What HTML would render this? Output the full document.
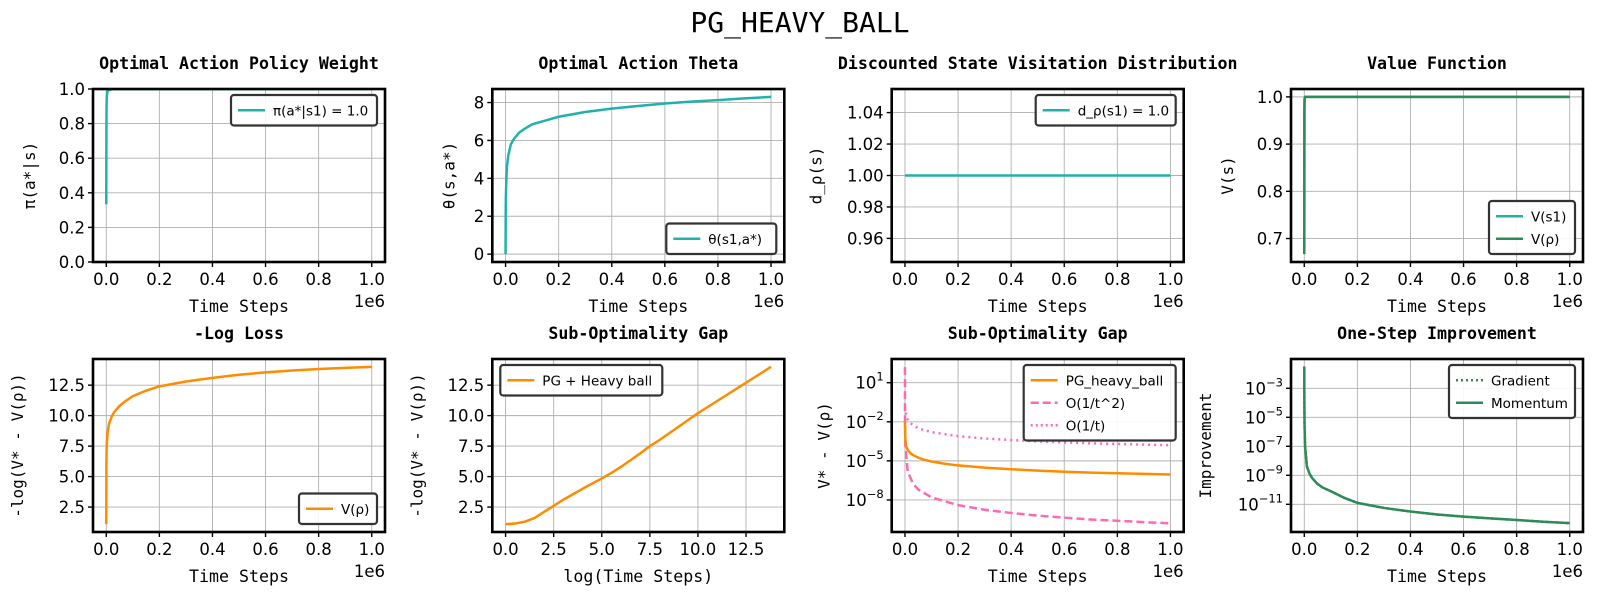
<!DOCTYPE html>
<html><head><meta charset="utf-8"><style>
html,body{margin:0;padding:0;background:#fff;}
svg{display:block;}
text{font-family:"DejaVu Sans","Liberation Sans",sans-serif;}
.mono{font-family:"DejaVu Sans Mono","Liberation Mono",monospace;}
</style></head><body>
<svg id="fig" width="1600" height="600" viewBox="0 0 1600 600" xmlns="http://www.w3.org/2000/svg">
<text class="mono" x="800" y="32" font-size="28" text-anchor="middle">PG_HEAVY_BALL</text>
</svg>
<script>
// ---- data (time in units of 1e6) ----
const piT = [0, 0.0005, 0.001, 0.002, 0.005, 0.02, 1.0];
const piV = [0.333, 0.75, 0.9, 0.96, 0.99, 0.999, 1.0];
const thT = [0, 0.0005, 0.001, 0.003, 0.005, 0.01, 0.02, 0.03, 0.05, 0.07, 0.1, 0.15, 0.2, 0.3, 0.4, 0.5, 0.6, 0.7, 0.8, 0.9, 1.0];
const thV = [0, 2.2, 3.0, 4.0, 4.6, 5.2, 5.8, 6.05, 6.4, 6.6, 6.85, 7.05, 7.25, 7.5, 7.68, 7.82, 7.95, 8.05, 8.13, 8.22, 8.3];
const dT = [0, 1.0];
const dV = [1.0, 1.0];
const vT = [0, 0.0005, 0.001, 0.003, 1.0];
const vS1 = [0.667, 0.97, 0.995, 1.0, 1.0];
const vRho = [0.667, 0.97, 0.995, 1.0, 1.0];
const p5T = [0, 0.0005, 0.001, 0.002, 0.005, 0.01, 0.02, 0.03, 0.05, 0.07, 0.1, 0.15, 0.2, 0.3, 0.4, 0.5, 0.6, 0.7, 0.8, 0.9, 1.0];
const p5V = [1.1, 6.0, 6.9, 7.7, 8.6, 9.3, 9.9, 10.3, 10.8, 11.15, 11.6, 12.05, 12.4, 12.8, 13.1, 13.35, 13.55, 13.7, 13.82, 13.92, 14.0];
const p6X = [0, 0.5, 1, 1.5, 2, 2.5, 3, 4, 5, 5.5, 6, 7, 7.5, 8, 9, 10, 11, 12, 13, 13.8];
const p6V = [1.1, 1.15, 1.3, 1.6, 2.1, 2.6, 3.1, 4.0, 4.85, 5.3, 5.8, 6.9, 7.5, 8.0, 9.1, 10.2, 11.2, 12.2, 13.2, 14.0];
const pgT = [0, 0.001, 0.003, 0.005, 0.01, 0.02, 0.03, 0.05, 0.07, 0.1, 0.15, 0.2, 0.3, 0.4, 0.5, 0.6, 0.7, 0.8, 0.9, 1.0];
const pgL = [-2.0, -3.2, -3.7, -3.9, -4.15, -4.4, -4.55, -4.75, -4.9, -5.05, -5.22, -5.35, -5.52, -5.64, -5.75, -5.84, -5.9, -5.95, -6.0, -6.05];
const o2T = [0.000001, 0.00001, 0.0001, 0.001, 0.01, 0.03, 0.05, 0.1, 0.2, 0.3, 0.4, 0.5, 0.6, 0.7, 0.8, 0.9, 1.0];
const o2L = [2.2, 0.2, -1.8, -3.8, -5.8, -6.75, -7.2, -7.8, -8.4, -8.75, -9.0, -9.2, -9.36, -9.5, -9.6, -9.7, -9.8];
const o1T = [0.003, 0.01, 0.02, 0.05, 0.1, 0.2, 0.3, 0.4, 0.5, 0.6, 0.7, 0.8, 0.9, 1.0];
const o1L = [-1.3, -1.8, -2.1, -2.5, -2.8, -3.1, -3.28, -3.4, -3.5, -3.58, -3.65, -3.7, -3.75, -3.8];
const gT = [0, 0.0002, 0.0005, 0.001, 0.003, 0.008, 0.01, 0.02, 0.03, 0.05, 0.07, 0.1, 0.15, 0.2, 0.3, 0.4, 0.5, 0.6, 0.7, 0.8, 0.9, 1.0];
const gL = [-1.5, -3.5, -4.5, -5.5, -7.0, -8.0, -8.4, -8.9, -9.2, -9.6, -9.85, -10.1, -10.55, -10.9, -11.25, -11.5, -11.7, -11.85, -11.97, -12.08, -12.2, -12.3];
const mT = [0, 0.0002, 0.0005, 0.001, 0.003, 0.008, 0.01, 0.02, 0.03, 0.05, 0.07, 0.1, 0.15, 0.2, 0.3, 0.4, 0.5, 0.6, 0.7, 0.8, 0.9, 1.0];
const mL = [-1.5, -3.5, -4.5, -5.5, -7.0, -8.0, -8.4, -8.9, -9.2, -9.6, -9.85, -10.1, -10.55, -10.9, -11.25, -11.5, -11.7, -11.85, -11.97, -12.08, -12.2, -12.3];
const timeTicks = [0, 0.2, 0.4, 0.6, 0.8, 1.0];
const timeTickLabels = ["0.0", "0.2", "0.4", "0.6", "0.8", "1.0"];
const logTimeTicks = [0, 2.5, 5, 7.5, 10, 12.5];
const logTimeTickLabels = ["0.0", "2.5", "5.0", "7.5", "10.0", "12.5"];

const NS = "http://www.w3.org/2000/svg";
const fig = document.getElementById("fig");
function mk(tag, attrs, parent) {
  const e = document.createElementNS(NS, tag);
  for (const k in attrs) e.setAttribute(k, attrs[k]);
  (parent || fig).appendChild(e);
  return e;
}
const COLS = [93, 492.3, 891.7, 1291];
const ROWS = [89, 359];
const W = 292, H = 173;
const TEAL = "#20b2aa", SEA = "#2e8b57", ORANGE = "#ff8c00", PINK = "#ff69b4";

function panel(o) {
  const L = COLS[o.col], T = ROWS[o.row];
  const g = mk("g", {});
  
  
  const [x0, x1] = o.xlim, [y0, y1] = o.ylim;
  const X = v => L + (v - x0) / (x1 - x0) * W;
  const Y = v => T + H - (v - y0) / (y1 - y0) * H;
  o.xticks.forEach((t) => {
    const l = mk("line", {x1: X(t), x2: X(t), y1: T, y2: T + H, stroke: "#b0b0b0", "stroke-width": 0.9}, g);
    
    
  });
  o.yticks.forEach((t) => {
    const l = mk("line", {x1: L, x2: L + W, y1: Y(t), y2: Y(t), stroke: "#b0b0b0", "stroke-width": 0.9}, g);
    
    
  });
  const cid = "clip" + o.col + o.row;
  const cp = mk("clipPath", {id: cid}, g);
  mk("rect", {x: L, y: T, width: W, height: H}, cp);
  o.series.forEach(s => {
    const pts = s.x.map((xv, i) => X(xv).toFixed(2) + "," + Y(s.y[i]).toFixed(2)).join(" ");
    const p = mk("polyline", {points: pts, fill: "none", stroke: s.color, "stroke-width": s.w || 2.5,
      "stroke-dasharray": s.dash || "none", "stroke-linejoin": "round", "clip-path": "url(#" + cid + ")"}, g);
    
    
  });
  const sp = mk("rect", {x: L, y: T, width: W, height: H, fill: "none", stroke: "#000", "stroke-width": 2.6}, g);
  
  
  o.xticks.forEach((t, i) => {
    mk("line", {x1: X(t), x2: X(t), y1: T + H, y2: T + H + 5, stroke: "#000", "stroke-width": 1.4}, g);
    const tx = mk("text", {x: X(t), y: T + H + 23, "font-size": 16.5, "text-anchor": "middle"}, g);
    tx.textContent = o.xtickLabels[i];
    
    
  });
  o.yticks.forEach((t, i) => {
    mk("line", {x1: L - 5, x2: L, y1: Y(t), y2: Y(t), stroke: "#000", "stroke-width": 1.4}, g);
    const tx = mk("text", {x: L - 8, y: Y(t) + 6, "font-size": 16.5, "text-anchor": "end"}, g);
    if (o.ylog) {
      const a = mk("tspan", {}, tx); a.textContent = "10";
      const b = mk("tspan", {dy: -8, "font-size": 11.5}, tx); b.textContent = (t < 0 ? "\u2212" : "") + Math.abs(t);
    } else {
      tx.textContent = o.ytickLabels[i];
    }
    
    
  });
  const ttl = mk("text", {x: L + W / 2, y: T - 20, "font-size": 16.6, "font-weight": "bold", "text-anchor": "middle", class: "mono"}, g);
  ttl.textContent = o.title;
  
  
  const xl = mk("text", {x: L + W / 2, y: T + H + 50, "font-size": 16.6, "text-anchor": "middle", class: "mono"}, g);
  xl.textContent = o.xlabel;
  
  
  const yl = mk("text", {x: 0, y: 0, "font-size": 16, "text-anchor": "middle", class: "mono",
    transform: "translate(" + (L - o.ylabelOff) + "," + (T + H / 2) + ") rotate(-90)"}, g);
  yl.textContent = o.ylabel;
  
  
  if (o.offset) {
    const of = mk("text", {x: L + W, y: T + H + 45, "font-size": 16.5, "text-anchor": "end"}, g);
    of.textContent = "1e6";
    
    
  }
  const lg = o.legend;
  const rowH = 22.5;
  const bh = lg.entries.length * rowH + 8;
  const bx = lg.right ? L + W - 8 - lg.w : L + 8;
  const by = lg.bottom ? T + H - 8 - bh : T + 6;
  const lgG = mk("g", {}, g);
  
  
  mk("rect", {x: bx, y: by, width: lg.w, height: bh, rx: 3, fill: "#fff", "fill-opacity": 0.9, stroke: "#333", "stroke-width": 2.2}, lgG);
  lg.entries.forEach((e, i) => {
    const cy = by + 4 + rowH * (i + 0.5);
    const ln = mk("line", {x1: bx + 7, x2: bx + 34, y1: cy, y2: cy, stroke: e.color, "stroke-width": 2.6, "stroke-dasharray": e.dash || "none"}, lgG);
    
    
    const tx = mk("text", {x: bx + 42, y: cy + 5, "font-size": 13.5}, lgG);
    tx.textContent = e.label;
    
    
  });
}

const tX = [-0.05, 1.05];
panel({name: "policy-weight-panel", col: 0, row: 0, xlim: tX, ylim: [0, 1], xticks: timeTicks, xtickLabels: timeTickLabels,
  yticks: [0, 0.2, 0.4, 0.6, 0.8, 1.0], ytickLabels: ["0.0", "0.2", "0.4", "0.6", "0.8", "1.0"],
  title: "Optimal Action Policy Weight", xlabel: "Time Steps", ylabel: "\u03c0(a*|s)", ylabelOff: 58, offset: true,
  series: [{name: "pi-line", x: piT, y: piV, color: TEAL}],
  legend: {right: true, w: 146, entries: [{label: "\u03c0(a*|s1) = 1.0", color: TEAL}]}});
panel({name: "theta-panel", col: 1, row: 0, xlim: tX, ylim: [-0.415, 8.715], xticks: timeTicks, xtickLabels: timeTickLabels,
  yticks: [0, 2, 4, 6, 8], ytickLabels: ["0", "2", "4", "6", "8"],
  title: "Optimal Action Theta", xlabel: "Time Steps", ylabel: "\u03b8(s,a*)", ylabelOff: 38, offset: true,
  series: [{name: "theta-line", x: thT, y: thV, color: TEAL}],
  legend: {right: true, bottom: true, w: 110, entries: [{label: "\u03b8(s1,a*)", color: TEAL}]}});
panel({name: "visitation-panel", col: 2, row: 0, xlim: tX, ylim: [0.945, 1.055], xticks: timeTicks, xtickLabels: timeTickLabels,
  yticks: [0.96, 0.98, 1.0, 1.02, 1.04], ytickLabels: ["0.96", "0.98", "1.00", "1.02", "1.04"],
  title: "Discounted State Visitation Distribution", xlabel: "Time Steps", ylabel: "d_\u03c1(s)", ylabelOff: 70, offset: true,
  series: [{name: "d-rho-line", x: dT, y: dV, color: TEAL}],
  legend: {right: true, w: 140, entries: [{label: "d_\u03c1(s1) = 1.0", color: TEAL}]}});
panel({name: "value-function-panel", col: 3, row: 0, xlim: tX, ylim: [0.6503, 1.0167], xticks: timeTicks, xtickLabels: timeTickLabels,
  yticks: [0.7, 0.8, 0.9, 1.0], ytickLabels: ["0.7", "0.8", "0.9", "1.0"],
  title: "Value Function", xlabel: "Time Steps", ylabel: "V(s)", ylabelOff: 58, offset: true,
  series: [{name: "v-s1-line", x: vT, y: vS1, color: TEAL}, {name: "v-rho-line", x: vT, y: vRho, color: SEA}],
  legend: {right: true, bottom: true, w: 86, entries: [{label: "V(s1)", color: TEAL}, {label: "V(\u03c1)", color: SEA}]}});
panel({name: "neg-log-loss-panel", col: 0, row: 1, xlim: tX, ylim: [0.455, 14.645], xticks: timeTicks, xtickLabels: timeTickLabels,
  yticks: [2.5, 5, 7.5, 10, 12.5], ytickLabels: ["2.5", "5.0", "7.5", "10.0", "12.5"],
  title: "-Log Loss", xlabel: "Time Steps", ylabel: "-log(V* - V(\u03c1))", ylabelOff: 70, offset: true,
  series: [{name: "neg-log-gap-line", x: p5T, y: p5V, color: ORANGE}],
  legend: {right: true, bottom: true, w: 78, entries: [{label: "V(\u03c1)", color: ORANGE}]}});
panel({name: "log-suboptimality-panel", col: 1, row: 1, xlim: [-0.69, 14.49], ylim: [0.455, 14.645], xticks: logTimeTicks, xtickLabels: logTimeTickLabels,
  yticks: [2.5, 5, 7.5, 10, 12.5], ytickLabels: ["2.5", "5.0", "7.5", "10.0", "12.5"],
  title: "Sub-Optimality Gap", xlabel: "log(Time Steps)", ylabel: "-log(V* - V(\u03c1))", ylabelOff: 70, offset: false,
  series: [{name: "pg-heavy-ball-line", x: p6X, y: p6V, color: ORANGE}],
  legend: {right: false, w: 162, entries: [{label: "PG + Heavy ball", color: ORANGE}]}});
panel({name: "suboptimality-gap-panel", col: 2, row: 1, xlim: tX, ylim: [-10.46, 2.82], ylog: true, xticks: timeTicks, xtickLabels: timeTickLabels,
  yticks: [1, -2, -5, -8],
  title: "Sub-Optimality Gap", xlabel: "Time Steps", ylabel: "V* - V(\u03c1)", ylabelOff: 62, offset: true,
  series: [{name: "o-1-t2-line", x: o2T, y: o2L, color: PINK, dash: "8,4"},
           {name: "o-1-t-line", x: o1T, y: o1L, color: PINK, dash: "2,4"},
           {name: "pg-gap-line", x: pgT, y: pgL, color: ORANGE}],
  legend: {right: true, w: 152, entries: [{label: "PG_heavy_ball", color: ORANGE}, {label: "O(1/t^2)", color: PINK, dash: "8,4"}, {label: "O(1/t)", color: PINK, dash: "2,3"}]}});
panel({name: "one-step-improvement-panel", col: 3, row: 1, xlim: tX, ylim: [-12.91, -0.98], ylog: true, xticks: timeTicks, xtickLabels: timeTickLabels,
  yticks: [-3, -5, -7, -9, -11],
  title: "One-Step Improvement", xlabel: "Time Steps", ylabel: "Improvement", ylabelOff: 80, offset: true,
  series: [{name: "gradient-line", x: gT, y: gL, color: SEA, dash: "2,3"}, {name: "momentum-line", x: mT, y: mL, color: SEA}],
  legend: {right: true, w: 126, entries: [{label: "Gradient", color: SEA, dash: "2,3"}, {label: "Momentum", color: SEA}]}});
</script>
</body></html>
